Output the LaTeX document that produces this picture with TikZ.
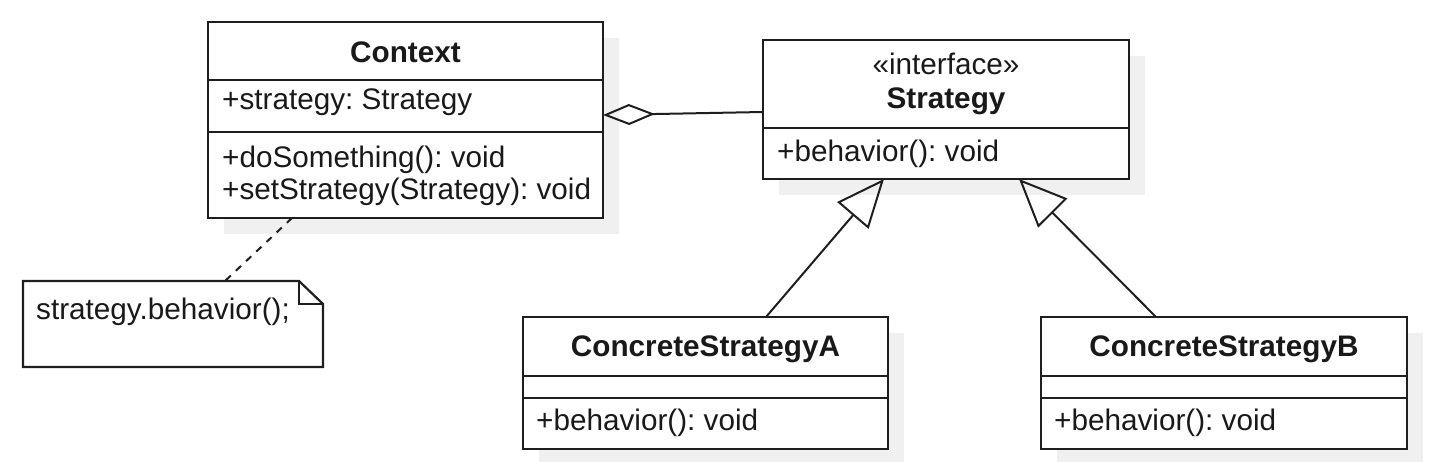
\documentclass[tikz,border=0pt]{standalone}
\usepackage{fontspec}
\setmainfont{Liberation Sans}
\usetikzlibrary{arrows.meta}
\definecolor{shadowc}{RGB}{240,240,240}
\definecolor{linec}{RGB}{30,30,30}
\definecolor{textc}{RGB}{25,25,25}
\frenchspacing
\begin{document}
\begin{tikzpicture}[x=1pt,y=-1pt,
  box/.style={draw=linec, line width=2.2pt, fill=white, rectangle, inner sep=0pt, outer sep=0pt, anchor=north west},
  notebox/.style={rectangle, inner sep=0pt, outer sep=0pt, anchor=north west},
  shade/.style={fill=shadowc, draw=none},
  txt/.style={font=\fontsize{29.7}{34}\selectfont, text=textc, inner sep=0pt},
  ttl/.style={font=\fontsize{29.7}{34}\selectfont\bfseries, text=textc, inner sep=0pt},
  divider/.style={draw=linec, line width=2.2pt},
  conn/.style={draw=linec, line width=2pt},
  ]
\useasboundingbox (0,0) rectangle (1436,462);

% shadows
\fill[shade] (224,38) rectangle (619,234);
\fill[shade] (779,56) rectangle (1145,195);
\fill[shade] (539,333) rectangle (904,465);
\fill[shade] (1057,333) rectangle (1423,465);

% Context
\node[box, minimum width=395pt, minimum height=196pt] (ctx) at (208,22) {};
\draw[divider] (ctx.west |- 0,80) -- (ctx.east |- 0,80);
\draw[divider] (ctx.west |- 0,132) -- (ctx.east |- 0,132);
\node[ttl, anchor=base] (ctxname) at (405.5,63) {Context};
\node[txt, anchor=base west] (ctxattr) at (222,110) {+strategy: Strategy};
\node[txt, anchor=base west] (ctxm1) at (222,168) {+doSomething(): void};
\node[txt, anchor=base west] (ctxm2) at (222,200) {+setStrategy(Strategy): void};

% Strategy
\node[box, minimum width=366pt, minimum height=139pt] (strat) at (763,40) {};
\draw[divider] (strat.west |- 0,128) -- (strat.east |- 0,128);
\node[txt, anchor=base] (stereo) at (946,75) {«interface»};
\node[ttl, anchor=base] (stratname) at (946,109) {Strategy};
\node[txt, anchor=base west] (stratm) at (777,162) {+behavior(): void};

% ConcreteStrategyA
\node[box, minimum width=365pt, minimum height=132pt] (ca) at (523,317) {};
\draw[divider] (ca.west |- 0,376) -- (ca.east |- 0,376);
\draw[divider] (ca.west |- 0,398) -- (ca.east |- 0,398);
\node[ttl, anchor=base] (caname) at (705.5,357) {ConcreteStrategyA};
\node[txt, anchor=base west] (cam) at (536,430) {+behavior(): void};

% ConcreteStrategyB
\node[box, minimum width=366pt, minimum height=132pt] (cb) at (1041,317) {};
\draw[divider] (cb.west |- 0,376) -- (cb.east |- 0,376);
\draw[divider] (cb.west |- 0,398) -- (cb.east |- 0,398);
\node[ttl, anchor=base] (cbname) at (1224,357) {ConcreteStrategyB};
\node[txt, anchor=base west] (cbm) at (1054,430) {+behavior(): void};

% Note
\node[notebox, minimum width=300pt, minimum height=86pt] (note) at (23,281) {};
\draw[divider, fill=white, line join=miter]
  (note.north west) -- ([xshift=-24pt]note.north east) -- ([yshift=-23pt]note.north east)
  -- (note.south east) -- (note.south west) -- cycle;
\draw[divider, line join=miter]
  ([xshift=-24pt]note.north east) -- ([xshift=-24pt,yshift=-23pt]note.north east)
  -- ([yshift=-23pt]note.north east);
\node[txt, anchor=base west] (notetext) at (36,320) {strategy.behavior();};

% connectors
\coordinate (ctxdot) at (ctx.south -| 292,0);
\coordinate (notetop) at (note.north -| 225,0);
\draw[conn, dash pattern=on 7pt off 7pt] (ctxdot) -- (notetop);

\coordinate (aggS) at (ctx.east |- 0,115);
\coordinate (aggE) at (strat.west |- 0,112);
\draw[conn, {Diamond[open, length=52pt, width=21pt, line join=miter]}-] (aggS) -- (aggE);

\coordinate (caTop) at (ca.north -| 766,0);
\coordinate (stA) at (strat.south -| 884,0);
\draw[conn, -{Triangle[open, length=48pt, width=41pt, line join=miter]}] (caTop) -- (stA);

\coordinate (cbTop) at (cb.north -| 1156,0);
\coordinate (stB) at (strat.south -| 1019,0);
\draw[conn, -{Triangle[open, length=48pt, width=41pt, line join=miter]}] (cbTop) -- (stB);
\end{tikzpicture}
\end{document}
